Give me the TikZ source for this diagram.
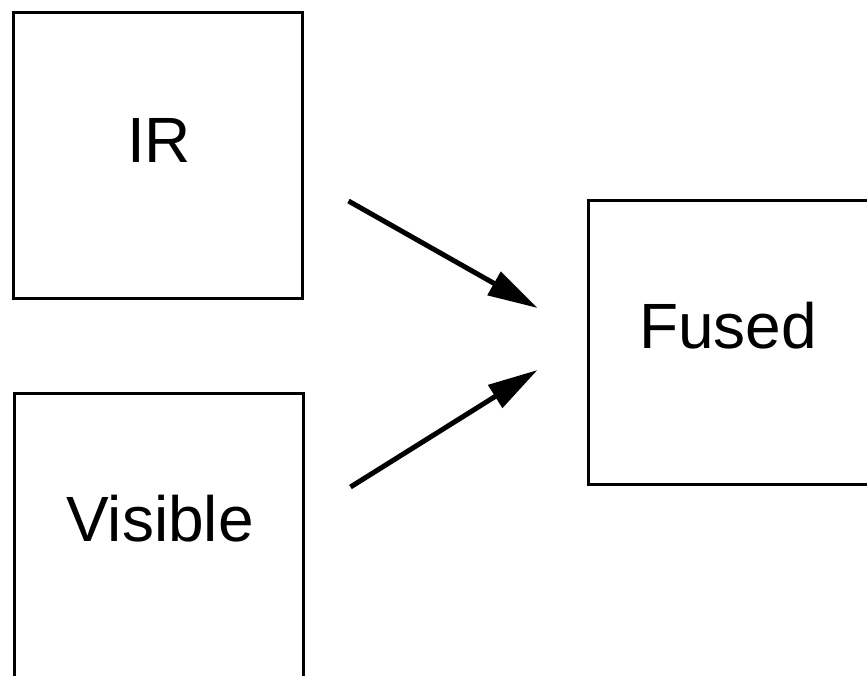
\documentclass[tikz,border=0pt]{standalone}
\usepackage{fontspec}
\setmainfont{Liberation Sans}
\usetikzlibrary{arrows.meta}
\begin{document}
\begin{tikzpicture}[x=1pt,y=-1pt,
  panel/.style={draw=black, line width=3pt, fill=white, inner sep=0pt},
  lbl/.style={font=\fontsize{64}{70}\selectfont, inner sep=0pt, anchor=base},
  flow/.style={line width=5pt, -{Triangle[length=50pt,width=26pt]}}]
\useasboundingbox (0,0) rectangle (867,675);
\clip (0,0) rectangle (867,675);
\node[panel, minimum width=289pt, minimum height=286pt] (ir) at (157.5,155) {};
\node[panel, minimum width=289pt, minimum height=307pt] (vis) at (158.5,546.5) {};
\node[panel, minimum width=312pt, minimum height=284pt] (fused) at (744,342) {};
\node[lbl] (irt) at (159,162) {IR};
\node[lbl] (vist) at (160,541) {Visible};
\node[lbl] (fusedt) at (728,348) {Fused};
\draw[flow] ([shift={(45,46)}]ir.east) -- ([shift={(-49,-34)}]fused.west);
\draw[flow] ([shift={(46,-59.5)}]vis.east) -- ([shift={(-49,28)}]fused.west);
\end{tikzpicture}
\end{document}
